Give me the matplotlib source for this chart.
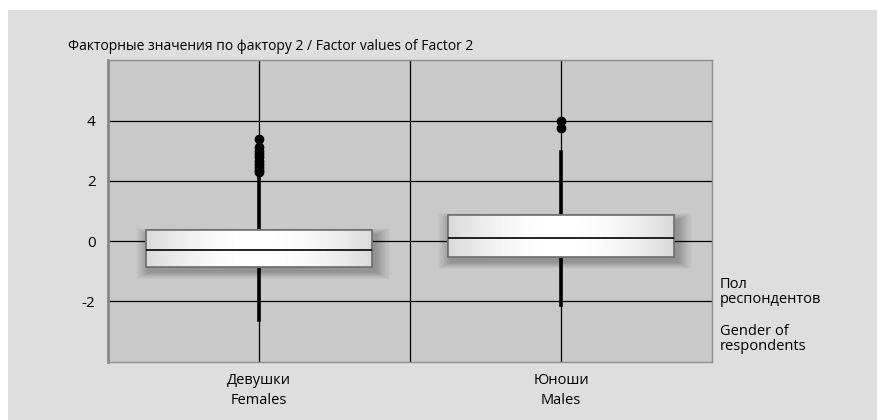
import numpy as np
import matplotlib
matplotlib.use("Agg")
from matplotlib import pyplot as plt
from matplotlib.patches import Rectangle

plt.rcParams['font.family'] = ['Open Sans', 'DejaVu Sans']

categories = ["Девушки\nFemales", "Юноши\nMales"]
q1 = [-0.87, -0.53]
medians = [-0.30, 0.10]
q3 = [0.37, 0.87]
whis_lo = [-2.62, -2.13]
whis_hi = [2.25, 2.97]
fliers = [
    [3.39, 3.14, 3.0, 2.9, 2.8, 2.68, 2.58, 2.47, 2.37, 2.30],
    [4.0, 3.75],
]
yticks = [-2, 0, 2, 4]

fig = plt.figure(figsize=(8.77, 4.2), dpi=100)
fig.patch.set_facecolor("white")
fig.add_artist(Rectangle((8 / 877, 0), 1, 1 - 10 / 420, transform=fig.transFigure,
                         facecolor="#dedede", edgecolor="none", zorder=-10))

ax = fig.add_axes([108 / 877, 1 - 362 / 420, 604 / 877, 302 / 420])
ax.set_facecolor("#c9c9c9")

pos = [1, 2]
stats = []
for i in range(2):
    stats.append(dict(med=medians[i], q1=q1[i], q3=q3[i], whislo=whis_lo[i],
                      whishi=whis_hi[i], fliers=fliers[i], label=categories[i]))

# grid
for y in yticks:
    ax.axhline(y, color="black", lw=0.9, zorder=1)
for x in [1, 1.5, 2]:
    ax.axvline(x, color="black", lw=0.9, zorder=1)

# soft shadows behind boxes (stacked translucent rectangles)
for i in range(2):
    for k in range(14):
        grow = 0.0035 * k
        ax.add_patch(Rectangle((pos[i] - 0.375 + 0.012 - grow, q1[i] - 0.17 - grow * 5),
                               0.75 + 2 * grow, q3[i] - q1[i] + 2 * grow * 5,
                               facecolor="black", edgecolor="none", alpha=0.018, zorder=2))

res = ax.bxp(stats, positions=pos, widths=0.75, patch_artist=True, showcaps=False,
             boxprops=dict(facecolor="white", edgecolor="#707070", linewidth=1.2),
             whiskerprops=dict(color="black", linewidth=2.6),
             medianprops=dict(color="black", linewidth=1.2),
             flierprops=dict(marker="o", markerfacecolor="black", markeredgecolor="black",
                             markersize=6))
for w in res['whiskers']:
    w.set_zorder(2.5)
for b in res['boxes']:
    b.set_zorder(3)
for m in res['medians']:
    m.set_zorder(5)

# gradient fill of the boxes
xs = np.linspace(-1, 1, 256)
grad = 1 - 0.15 * xs ** 2
grad = np.tile(grad, (2, 1))
for i in range(2):
    im = ax.imshow(grad, cmap="gray", vmin=0, vmax=1, aspect="auto",
                   extent=(pos[i] - 0.375, pos[i] + 0.375, q1[i], q3[i]), zorder=4,
                   interpolation="bilinear")
    im.set_clip_path(res['boxes'][i])
    edge = Rectangle((pos[i] - 0.375, q1[i]), 0.75, q3[i] - q1[i], facecolor="none",
                     edgecolor="#707070", linewidth=1.2, zorder=4.5)
    ax.add_patch(edge)

ax.set_xlim(0.5, 2.5)
ax.set_ylim(-4.03, 6.03)
ax.set_yticks(yticks)
ax.set_yticklabels([str(v) for v in yticks], fontsize=11)
ax.set_xticks(pos)
ax.set_xticklabels(categories, fontsize=10.5, linespacing=1.45)
ax.tick_params(axis="y", length=0, pad=9)
ax.tick_params(axis="x", length=0, pad=8)
for s in ["top", "right", "bottom"]:
    ax.spines[s].set_color("#909090")
    ax.spines[s].set_linewidth(1)
ax.spines["left"].set_color("#888888")
ax.spines["left"].set_linewidth(2)

fig.text(68 / 877, 1 - 47 / 420, "Факторные значения по фактору 2 / Factor values of Factor 2",
         fontsize=10, va="center", ha="left")
fig.text(720 / 877, 1 - 292 / 420, "Пол\nреспондентов", fontsize=10.5, va="center",
         ha="left", linespacing=1.0)
fig.text(720 / 877, 1 - 339 / 420, "Gender of\nrespondents", fontsize=10.5, va="center",
         ha="left", linespacing=1.0)

fig.savefig("out.png", dpi=100)
